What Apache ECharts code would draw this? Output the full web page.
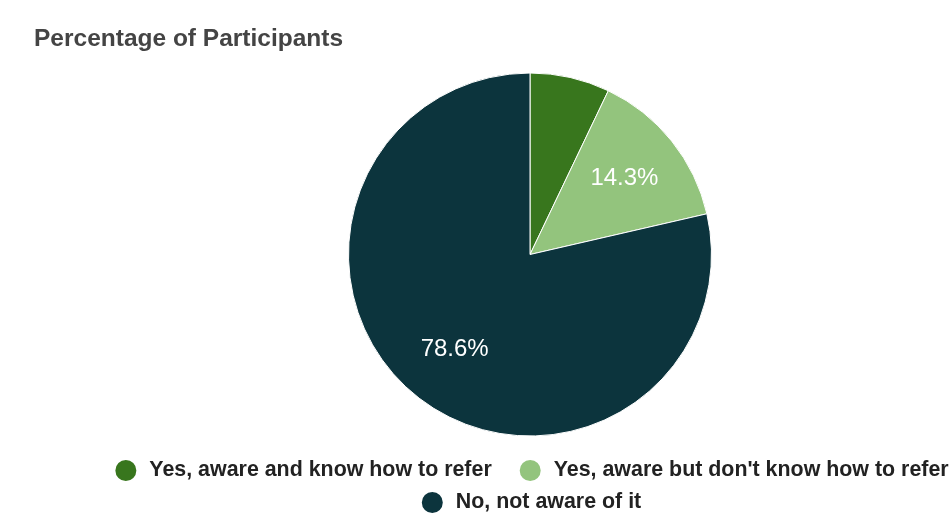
<!DOCTYPE html>
<html>
<head>
<meta charset="utf-8">
<script src="https://cdn.jsdelivr.net/npm/echarts@6/dist/echarts.min.js"></script>
<style>
  html, body { margin: 0; padding: 0; background: #ffffff; }
  #chart { width: 952px; height: 528px; }
</style>
</head>
<body>
<div id="chart"></div>
<script>
// Survey answers and their share of participants (%)
const categories = [
  'Yes, aware and know how to refer',
  "Yes, aware but don't know how to refer",
  'No, not aware of it'
];
const percentages = [7.1, 14.3, 78.6];
const sliceColors = ['#38761d', '#93c47d', '#0c343d'];

const FONT = '"Liberation Sans", Arial, Helvetica, sans-serif';
const CENTER = [530, 254.5];
const RADIUS = 181.5;

// Legend is split in two centred rows under the pie
const legendFontSize = 21.4;
const iconSize = 23;
const iconTextGap = 5;
const textPadLeft = 7;
const itemGap = 26;

const measure = (() => {
  const ctx = document.createElement('canvas').getContext('2d');
  ctx.font = 'bold ' + legendFontSize + 'px ' + FONT;
  return (t) => ctx.measureText(t).width;
})();
const rowWidth = (names) =>
  names.reduce((s, n) => s + iconSize + iconTextGap + textPadLeft + measure(n), 0) +
  itemGap * (names.length - 1);

const row1 = categories.slice(0, 2);
const row2 = categories.slice(2);

const legendBase = {
  orient: 'horizontal',
  icon: 'circle',
  itemWidth: iconSize,
  itemHeight: iconSize,
  itemGap: itemGap,
  itemTextGap: iconTextGap,
  padding: 0,
  selectedMode: false,
  textStyle: {
    fontFamily: FONT,
    fontSize: legendFontSize,
    fontWeight: 'bold',
    color: '#222222',
    padding: [0, 0, 0, textPadLeft]
  }
};

const pieData = categories.map((name, i) => ({
  name: name,
  value: percentages[i],
  itemStyle: { color: sliceColors[i] }
}));

// Second, transparent layer carries the percentage labels a bit further out
const labelData = categories.map((name, i) => ({
  name: name,
  value: percentages[i],
  label: { show: percentages[i] >= 10 }
}));

const chart = echarts.init(document.getElementById('chart'), null, { renderer: 'canvas' });
chart.setOption({
  animation: false,
  backgroundColor: '#ffffff',
  title: {
    text: 'Percentage of Participants',
    left: 34,
    top: 27,
    padding: 0,
    textStyle: {
      fontFamily: FONT,
      fontSize: 24.5,
      fontWeight: 'bold',
      color: '#444444'
    }
  },
  legend: [
    Object.assign({}, legendBase, {
      data: row1,
      left: CENTER[0] - rowWidth(row1) / 2,
      top: 458
    }),
    Object.assign({}, legendBase, {
      data: row2,
      left: CENTER[0] - rowWidth(row2) / 2,
      top: 490
    })
  ],
  series: [
    {
      name: 'Percentage of Participants',
      type: 'pie',
      center: CENTER,
      radius: [0, RADIUS],
      startAngle: 90,
      clockwise: true,
      silent: true,
      label: { show: false },
      labelLine: { show: false },
      itemStyle: { borderColor: '#ffffff', borderWidth: 1 },
      data: pieData
    },
    {
      name: 'labels',
      type: 'pie',
      center: CENTER,
      radius: [0, RADIUS * 1.3],
      startAngle: 90,
      clockwise: true,
      silent: true,
      itemStyle: { color: 'rgba(0,0,0,0)', borderWidth: 0 },
      label: {
        position: 'inside',
        formatter: '{c}%',
        color: '#ffffff',
        fontFamily: FONT,
        fontSize: 24,
        fontWeight: 'normal'
      },
      labelLine: { show: false },
      data: labelData
    }
  ]
});
</script>
</body>
</html>
